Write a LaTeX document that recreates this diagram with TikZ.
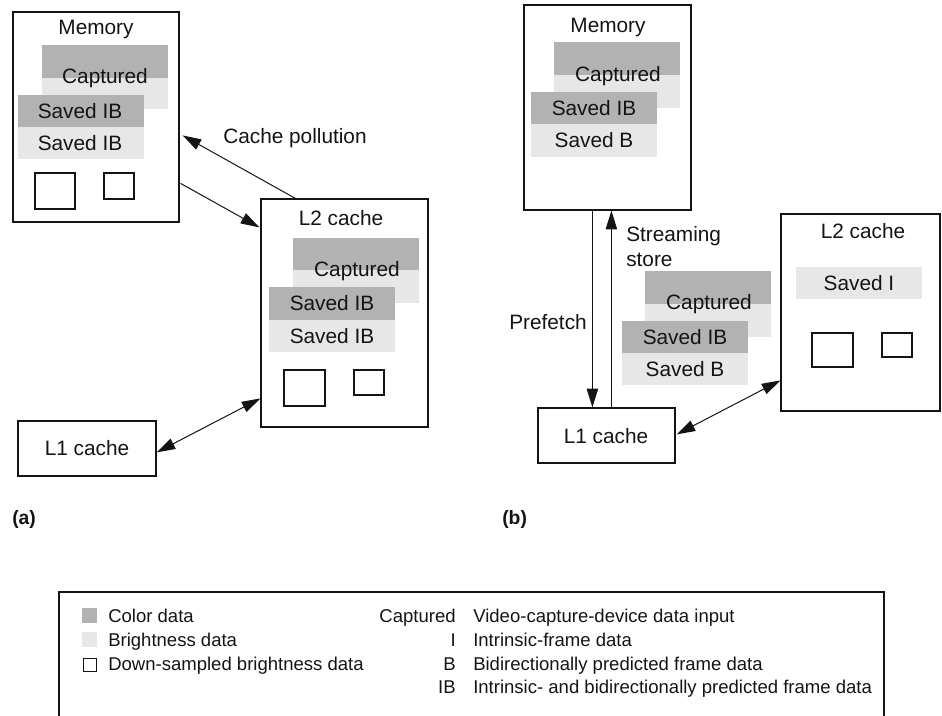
\documentclass[tikz,border=0pt]{standalone}
\usepackage{fontspec}
\setmainfont{Liberation Sans}
\usetikzlibrary{arrows.meta,fit,calc}
\definecolor{colordata}{gray}{0.70}
\definecolor{brightdata}{gray}{0.905}
\definecolor{ink}{gray}{0.08}

\begin{document}
\begin{tikzpicture}[x=0.75pt,y=-0.75pt,
  box/.style={draw=ink, line width=0.9pt, inner sep=0pt},
  dark/.style={fill=colordata, inner sep=0pt},
  light/.style={fill=brightdata, inner sep=0pt},
  thumb/.style={draw=ink, line width=0.9pt, fill=white, inner sep=0pt},
  lbl/.style={font=\fontsize{15.6}{18.75}\selectfont, text=ink, inner sep=0pt,
              text height=11.2pt, text depth=0pt},
  leg/.style={font=\fontsize{13.9}{16.7}\selectfont, text=ink, inner sep=0pt,
              text height=9.95pt, text depth=0pt},
  tag/.style={font=\fontsize{14.5}{17}\selectfont\bfseries, text=ink, inner sep=0pt,
              text height=10.4pt, text depth=0pt},
  arr/.style={draw=ink, line width=0.75pt, -{Triangle[length=14pt,width=8.5pt]}},
  darr/.style={draw=ink, line width=0.75pt,
               {Triangle[length=14pt,width=8.5pt]}-{Triangle[length=14pt,width=8.5pt]}},
]
\useasboundingbox (0,0) rectangle (942,715);

% ---------------- (a) ----------------
\node[box, fit={(13,12) (179,222)}] (mema) {};
\node[lbl] (mema-t) at (96,27) {Memory};
\node[dark,  fit={(42,45) (168,78)}]  (mema-cd) {};
\node[light, fit={(42,78) (168,109)}] (mema-cl) {};
\node[lbl] (mema-ct) at (105,76) {Captured};
\node[dark,  fit={(18,95) (144,127)}]  (mema-sd) {};
\node[light, fit={(18,127) (144,159)}] (mema-sl) {};
\node[lbl] (mema-s1) at (80,111) {Saved IB};
\node[lbl] (mema-s2) at (80,143) {Saved IB};
\node[thumb, fit={(35,173) (75,209)}]  (mema-q1) {};
\node[thumb, fit={(104,173) (134,199)}] (mema-q2) {};

\node[box, fit={(261,199) (428,427)}] (l2a) {};
\node[lbl] (l2a-t) at (341,218) {L2 cache};
\node[dark,  fit={(293,238) (419,270)}] (l2a-cd) {};
\node[light, fit={(293,270) (419,303)}] (l2a-cl) {};
\node[lbl] (l2a-ct) at (357,269) {Captured};
\node[dark,  fit={(269,287) (395,320)}] (l2a-sd) {};
\node[light, fit={(269,320) (395,352)}] (l2a-sl) {};
\node[lbl] (l2a-s1) at (332,303) {Saved IB};
\node[lbl] (l2a-s2) at (332,336) {Saved IB};
\node[thumb, fit={(284,370) (325,406)}] (l2a-q1) {};
\node[thumb, fit={(354,370) (384,395)}] (l2a-q2) {};

\node[box, fit={(18,421) (156,476)}] (l1a) {};
\node[lbl] (l1a-t) at (87,448) {L1 cache};

\draw[arr] ($(l2a.north west)+(35,0)$) -- ($(mema.north east)+(3,124)$);
\draw[arr] ($(mema.north east)+(1,172)$) -- ($(l2a.north west)+(-1,29)$);
\draw[darr] ($(l1a.north east)+(0,32)$) -- ($(l2a.north west)+(0,200)$);
\node[lbl, anchor=west] (poll) at (223,136) {Cache pollution};

\node[tag, anchor=west] (taga) at (12,518) {(a)};

% ---------------- (b) ----------------
\node[box, fit={(524,5) (691,210)}] (memb) {};
\node[lbl] (memb-t) at (608,25) {Memory};
\node[dark,  fit={(554,42) (680,75)}]  (memb-cd) {};
\node[light, fit={(554,75) (680,108)}] (memb-cl) {};
\node[lbl] (memb-ct) at (618,74) {Captured};
\node[dark,  fit={(531,92) (657,124)}]  (memb-sd) {};
\node[light, fit={(531,124) (657,157)}] (memb-sl) {};
\node[lbl] (memb-s1) at (594,108) {Saved IB};
\node[lbl] (memb-s2) at (594,140) {Saved B};

\node[dark,  fit={(645,271) (771,304)}] (fly-cd) {};
\node[light, fit={(645,304) (771,337)}] (fly-cl) {};
\node[lbl] (fly-ct) at (709,302) {Captured};
\node[dark,  fit={(622,321) (748,353)}] (fly-sd) {};
\node[light, fit={(622,353) (748,385)}] (fly-sl) {};
\node[lbl] (fly-s1) at (685,337) {Saved IB};
\node[lbl] (fly-s2) at (685,369) {Saved B};

\node[box, fit={(781,214) (940,411)}] (l2b) {};
\node[lbl] (l2b-t) at (863,231) {L2 cache};
\node[light, fit={(796,267) (922,299)}] (l2b-il) {};
\node[lbl] (l2b-it) at (859,283) {Saved I};
\node[thumb, fit={(812,333) (853,367)}] (l2b-q1) {};
\node[thumb, fit={(882,333) (912,357)}] (l2b-q2) {};

\node[box, fit={(538,408) (675,463)}] (l1b) {};
\node[lbl] (l1b-t) at (606,436) {L1 cache};

\draw[arr] ($(memb.south west)+(69,0)$) -- ($(l1b.north west)+(55,0)$);
\draw[arr] ($(l1b.north west)+(74,0)$) -- ($(memb.south west)+(88,0)$);
\draw[darr] ($(l1b.north east)+(1,27)$) -- ($(l2b.north west)+(0,167)$);
\node[lbl, anchor=west] (stream1) at (626,234) {Streaming};
\node[lbl, anchor=west] (stream2) at (626,259) {store};
\node[lbl, anchor=east] (pref) at (587,322) {Prefetch};

\node[tag, anchor=west] (tagb) at (502,518) {(b)};

% ---------------- key ----------------
\node[draw=ink, line width=1pt, inner sep=0pt, fit={(59,592) (884,760)}] (key) {};
\node[dark,  fit={(82,608) (97,623)}] (key-c) {};
\node[light, fit={(82,632) (97,647)}] (key-b) {};
\node[thumb, line width=0.6pt, fit={(83,658) (96,671)}] (key-d) {};
\node[leg, anchor=west] (key-ct) at (108,616) {Color data};
\node[leg, anchor=west] (key-bt) at (108,640) {Brightness data};
\node[leg, anchor=west] (key-dt) at (108,664) {Down-sampled brightness data};

\node[leg, anchor=east] (abbr1) at (456,616) {Captured};
\node[leg, anchor=east] (abbr2) at (456,640) {I};
\node[leg, anchor=east] (abbr3) at (456,664) {B};
\node[leg, anchor=east] (abbr4) at (456,687) {IB};
\node[leg, anchor=west] (def1) at (473,616) {Video-capture-device data input};
\node[leg, anchor=west] (def2) at (473,640) {Intrinsic-frame data};
\node[leg, anchor=west] (def3) at (473,664) {Bidirectionally predicted frame data};
\node[leg, anchor=west] (def4) at (473,687) {Intrinsic- and bidirectionally predicted frame data};
\end{tikzpicture}
\end{document}
